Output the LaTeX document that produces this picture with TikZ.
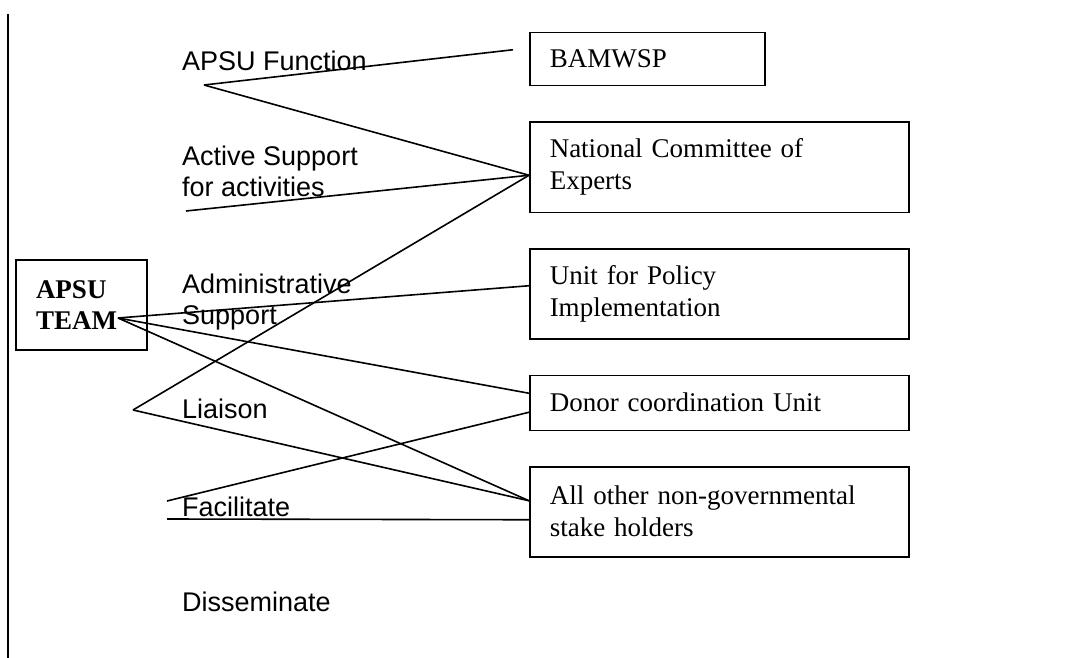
\documentclass[tikz,border=0pt]{standalone}
\usepackage{fontspec}
\setmainfont{Liberation Serif}
\setsansfont{Liberation Sans}
\usetikzlibrary{positioning}

\begin{document}
\begin{tikzpicture}[x=1pt, y=-1pt,
boxnode/.style={rectangle, draw, line width=1.5pt, inner xsep=20pt, align=left, font=\fontsize{27}{32}\selectfont},
bignode/.style={boxnode, text width=339pt, minimum height=90pt},
labelnode/.style={inner sep=0pt, anchor=base west, align=left, font=\sffamily\fontsize{27}{31}\selectfont},
link/.style={line width=1.6pt},
]
\useasboundingbox (0,0) rectangle (1084,658);

%Nodes
\node[boxnode, text width=91pt, minimum height=90pt, font=\bfseries\fontsize{27}{31}\selectfont] (team) at (81.5,305) {APSU\\TEAM};

\node[boxnode, text width=195pt, minimum height=53pt, anchor=north west] (bam) at (529,32) {BAMWSP};
\node[bignode] (nce) [below right=35pt and 0pt of bam.south west] {National Committee of\\Experts};
\node[bignode] (upi) [below right=35pt and 0pt of nce.south west] {Unit for Policy\\Implementation};
\node[boxnode, text width=339pt, minimum height=55pt] (dcu) [below right=35pt and 0pt of upi.south west] {Donor coordination Unit};
\node[bignode] (aos) [below right=35pt and 0pt of dcu.south west] {All other non-governmental\\stake holders};

\node[labelnode] (fn)  at (182,71)  {APSU Function};
\node[labelnode] (act) at (182,196) {Active Support\\for activities};
\node[labelnode] (adm) at (182,324) {Administrative\\Support};
\node[labelnode] (lia) at (182,418) {Liaison};
\node[labelnode] (fac) at (182,516) {Facilitate};
\node[labelnode] (dis) at (182,611) {Disseminate};

\coordinate (hub)  at (118,318);
\coordinate (fnv)  at (204,85);
\coordinate (actv) at (186,211);
\coordinate (liav) at (133,410);
\coordinate (facv) at (167,501);
\coordinate (fach) at (167,519);
\coordinate (edgetop) at (8,14);
\coordinate (edgebot) at (8,658);

%Lines
\draw[line width=2pt] (edgetop) -- (edgebot);

\draw[link] (fnv) -- ([xshift=-16pt,yshift=9.5pt]bam.west);
\draw[link] (fnv) -- ([yshift=-8pt]nce.west);
\draw[link] (actv) -- ([yshift=-8pt]nce.west);
\draw[link] (liav) -- ([yshift=-8pt]nce.west);
\draw[link] (liav) -- ([yshift=11pt]aos.west);

\draw[link] (hub) -- ([yshift=8pt]upi.west);
\draw[link] (hub) -- ([yshift=9.5pt]dcu.west);
\draw[link] (hub) -- ([yshift=11pt]aos.west);

\draw[link] (facv) -- ([yshift=-9.5pt]dcu.west);
\draw[link] (fach) -- ([yshift=-8pt]aos.west);
\end{tikzpicture}
\end{document}
